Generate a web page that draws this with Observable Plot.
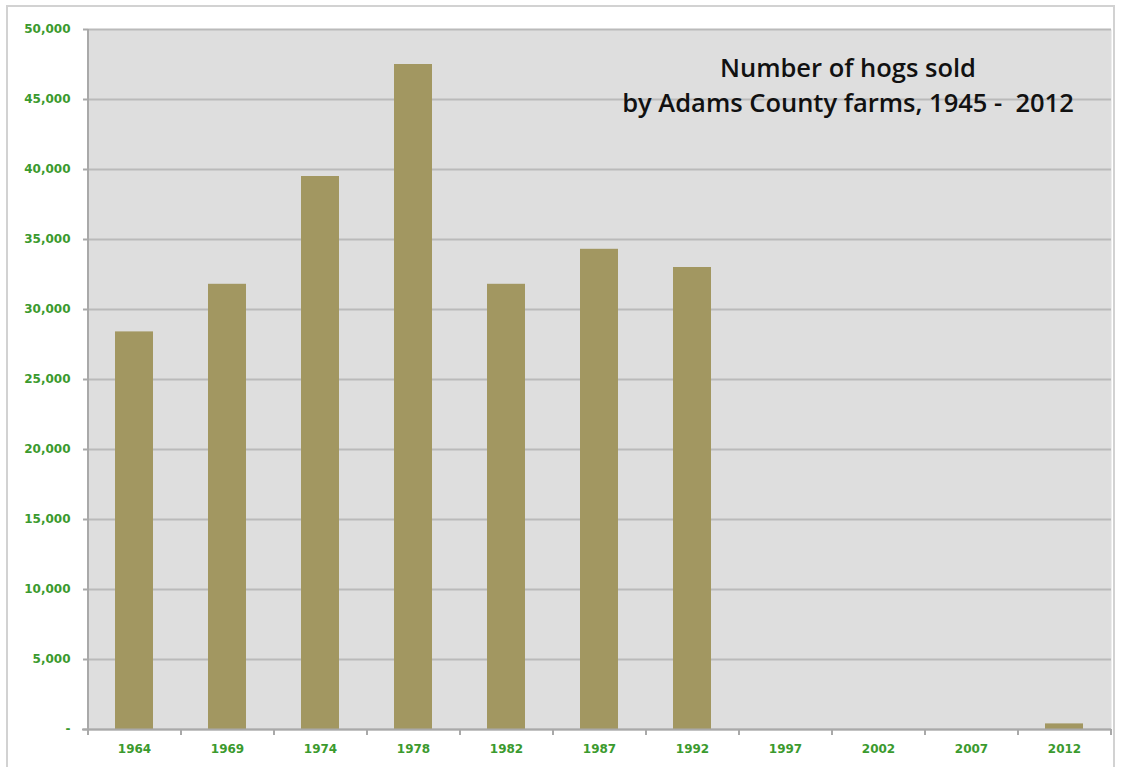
<!DOCTYPE html>
<html>
<head>
<meta charset="utf-8">
<script src="https://cdn.jsdelivr.net/npm/d3@7"></script>
<script src="https://cdn.jsdelivr.net/npm/@observablehq/plot@0.6"></script>
<style>
  html, body { margin: 0; padding: 0; background: #fff; overflow: hidden; }
  #wrap { position: relative; width: 1121px; height: 767px; }
  #frame { position: absolute; left: 6px; top: 5px; width: 1109px; height: 800px;
           border: 2px solid #d2d2d2; box-sizing: border-box; pointer-events: none; }
  #chart { position: absolute; left: 0; top: 0; }
  #title { position: absolute; left: 580px; width: 536px; top: 50px; text-align: center;
           font-family: "Open Sans", sans-serif; font-weight: 600; font-size: 25.5px;
           line-height: 35px; color: #111; }
</style>
</head>
<body>
<div id="wrap">
  <div id="chart"></div>
  <div id="frame"></div>
  <div id="title">Number of hogs sold<br>by Adams County farms, 1945 -&nbsp; 2012</div>
</div>
<script>
const years = ["1964", "1969", "1974", "1978", "1982", "1987", "1992", "1997", "2002", "2007", "2012"];
const hogsSold = [28400, 31800, 39500, 47500, 31800, 34300, 33000, 0, 0, 0, 400];
const yTicks = [0, 5000, 10000, 15000, 20000, 25000, 30000, 35000, 40000, 45000, 50000];

const data = years.map((y, i) => ({year: y, value: hogsSold[i]}));

const W = 1121, H = 767;
const mL = 88, mR = 10, mT = 29, mB = 38;
const step = (W - mL - mR) / years.length;
const green = "#3b9a2e";
const axisGray = "#a9a9a9";
const fmt = d => d === 0 ? "-" : d3.format(",")(d);

const chart = Plot.plot({
  width: W,
  height: H,
  marginLeft: mL,
  marginRight: mR,
  marginTop: mT,
  marginBottom: mB,
  style: {background: "transparent", fontFamily: "DejaVu Sans", fontWeight: "bold", fontSize: "12px"},
  x: {domain: years, paddingInner: 0.59, paddingOuter: 0.295, align: 0.5, label: null},
  y: {domain: [0, 50000], label: null},
  marks: [
    Plot.frame({fill: "#dedede", stroke: null}),
    Plot.ruleY(yTicks, {stroke: "#bababa", strokeWidth: 2}),
    Plot.barY(data, {x: "year", y: "value", fill: "#a29761"}),
    Plot.ruleX([years[0]], {x: d => d, dx: -step / 2, stroke: axisGray, strokeWidth: 2, y1: 0, y2: 50000}),
    Plot.ruleY([0], {stroke: axisGray, strokeWidth: 2, insetLeft: -6}),
    Plot.ruleX(years, {x: d => d, dx: -step / 2, y1: 0, y2: 0, insetTop: 6, stroke: axisGray, strokeWidth: 2}),
    Plot.ruleX([years[years.length - 1]], {x: d => d, dx: step / 2, y1: 0, y2: 0, insetTop: 6, stroke: axisGray, strokeWidth: 2}),
    Plot.axisY({ticks: yTicks, tickFormat: fmt, tickSize: 5, tickPadding: 13, stroke: axisGray, strokeWidth: 2, fill: green, label: null, fontSize: 12}),
    Plot.axisX({tickSize: 0, tickPadding: 15, fill: green, label: null, fontSize: 12})
  ]
});

document.getElementById("chart").appendChild(chart);
</script>
</body>
</html>
